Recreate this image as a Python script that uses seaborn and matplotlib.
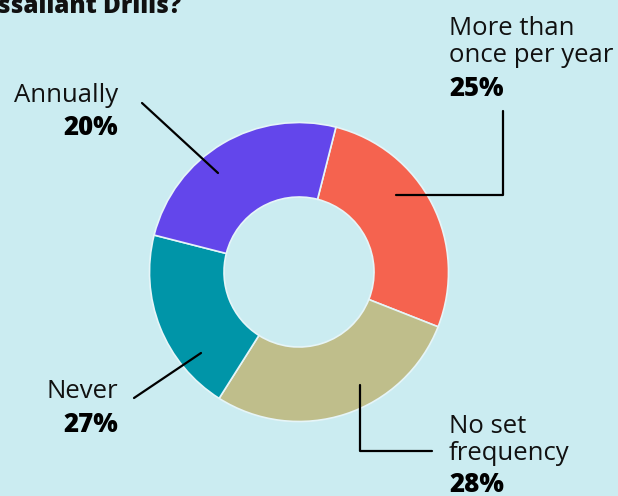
import matplotlib
matplotlib.use('Agg')
from matplotlib import pyplot as plt
import seaborn as sns

# slices, clockwise from the top
categories = ['More than once per year', 'No set frequency', 'Never', 'Annually']
slice_values = [27, 28, 20, 25]
label_lines = [['More than', 'once per year'], ['No set', 'frequency'], ['Never'], ['Annually']]
label_pcts = ['25%', '28%', '27%', '20%']
colors = ['#f5634f', '#bfbe8b', '#0095a8', '#6346eb']
bg = '#cbecf1'

sns.set_theme(style='white')
plt.rcParams['font.family'] = ['Open Sans', 'DejaVu Sans']

W, H = 618, 496
fig = plt.figure(figsize=(W / 100, H / 100), dpi=100, facecolor=bg)
ax = fig.add_axes([0, 0, 1, 1])
ax.set_facecolor(bg)
ax.set_xlim(0, W)
ax.set_ylim(0, H)
ax.set_aspect('equal')
ax.axis('off')

cx, cy, r = 299, H - 272, 149.5
ax.pie(slice_values, colors=colors, startangle=75.7, counterclock=False,
       center=(cx, cy), radius=r,
       wedgeprops=dict(width=74.5, edgecolor='#e6f5f8', linewidth=1.2))
ax.set_xlim(0, W)
ax.set_ylim(0, H)


def y(p):
    return H - p


# leader lines (pixel positions)
lw = 1.6
ax.plot([503, 503, 396], [y(111), y(195), y(195)], color='black', lw=lw)
ax.plot([359.5, 359.5, 432], [y(385), y(451), y(451)], color='black', lw=lw)
ax.plot([134, 201], [y(398), y(353)], color='black', lw=lw)
ax.plot([142, 218], [y(103), y(173)], color='black', lw=lw)

fs = 18.5
# label anchor: x, first baseline, percent baseline, alignment
anchors = [(449, 35, 96, 'left'), (449, 433, 491.5, 'left'),
           (118.5, 398, 432, 'right'), (118.5, 102, 135, 'right')]
for lines, pct, (x, b0, bp, ha) in zip(label_lines, label_pcts, anchors):
    for i, line in enumerate(lines):
        ax.text(x, y(b0 + i * 26.5), line, ha=ha, va='baseline',
                fontsize=fs, color='#111111')
    ax.text(x, y(bp), pct, ha=ha, va='baseline', fontsize=fs,
            fontweight='heavy', color='black')

# title, cropped at the top-left like the source
ax.text(181, y(13), 'Assailant Drills?', ha='right', va='baseline',
        fontsize=17.5, fontweight='heavy', color='#111111')

plt.savefig('out.png', dpi=100, facecolor=bg)
